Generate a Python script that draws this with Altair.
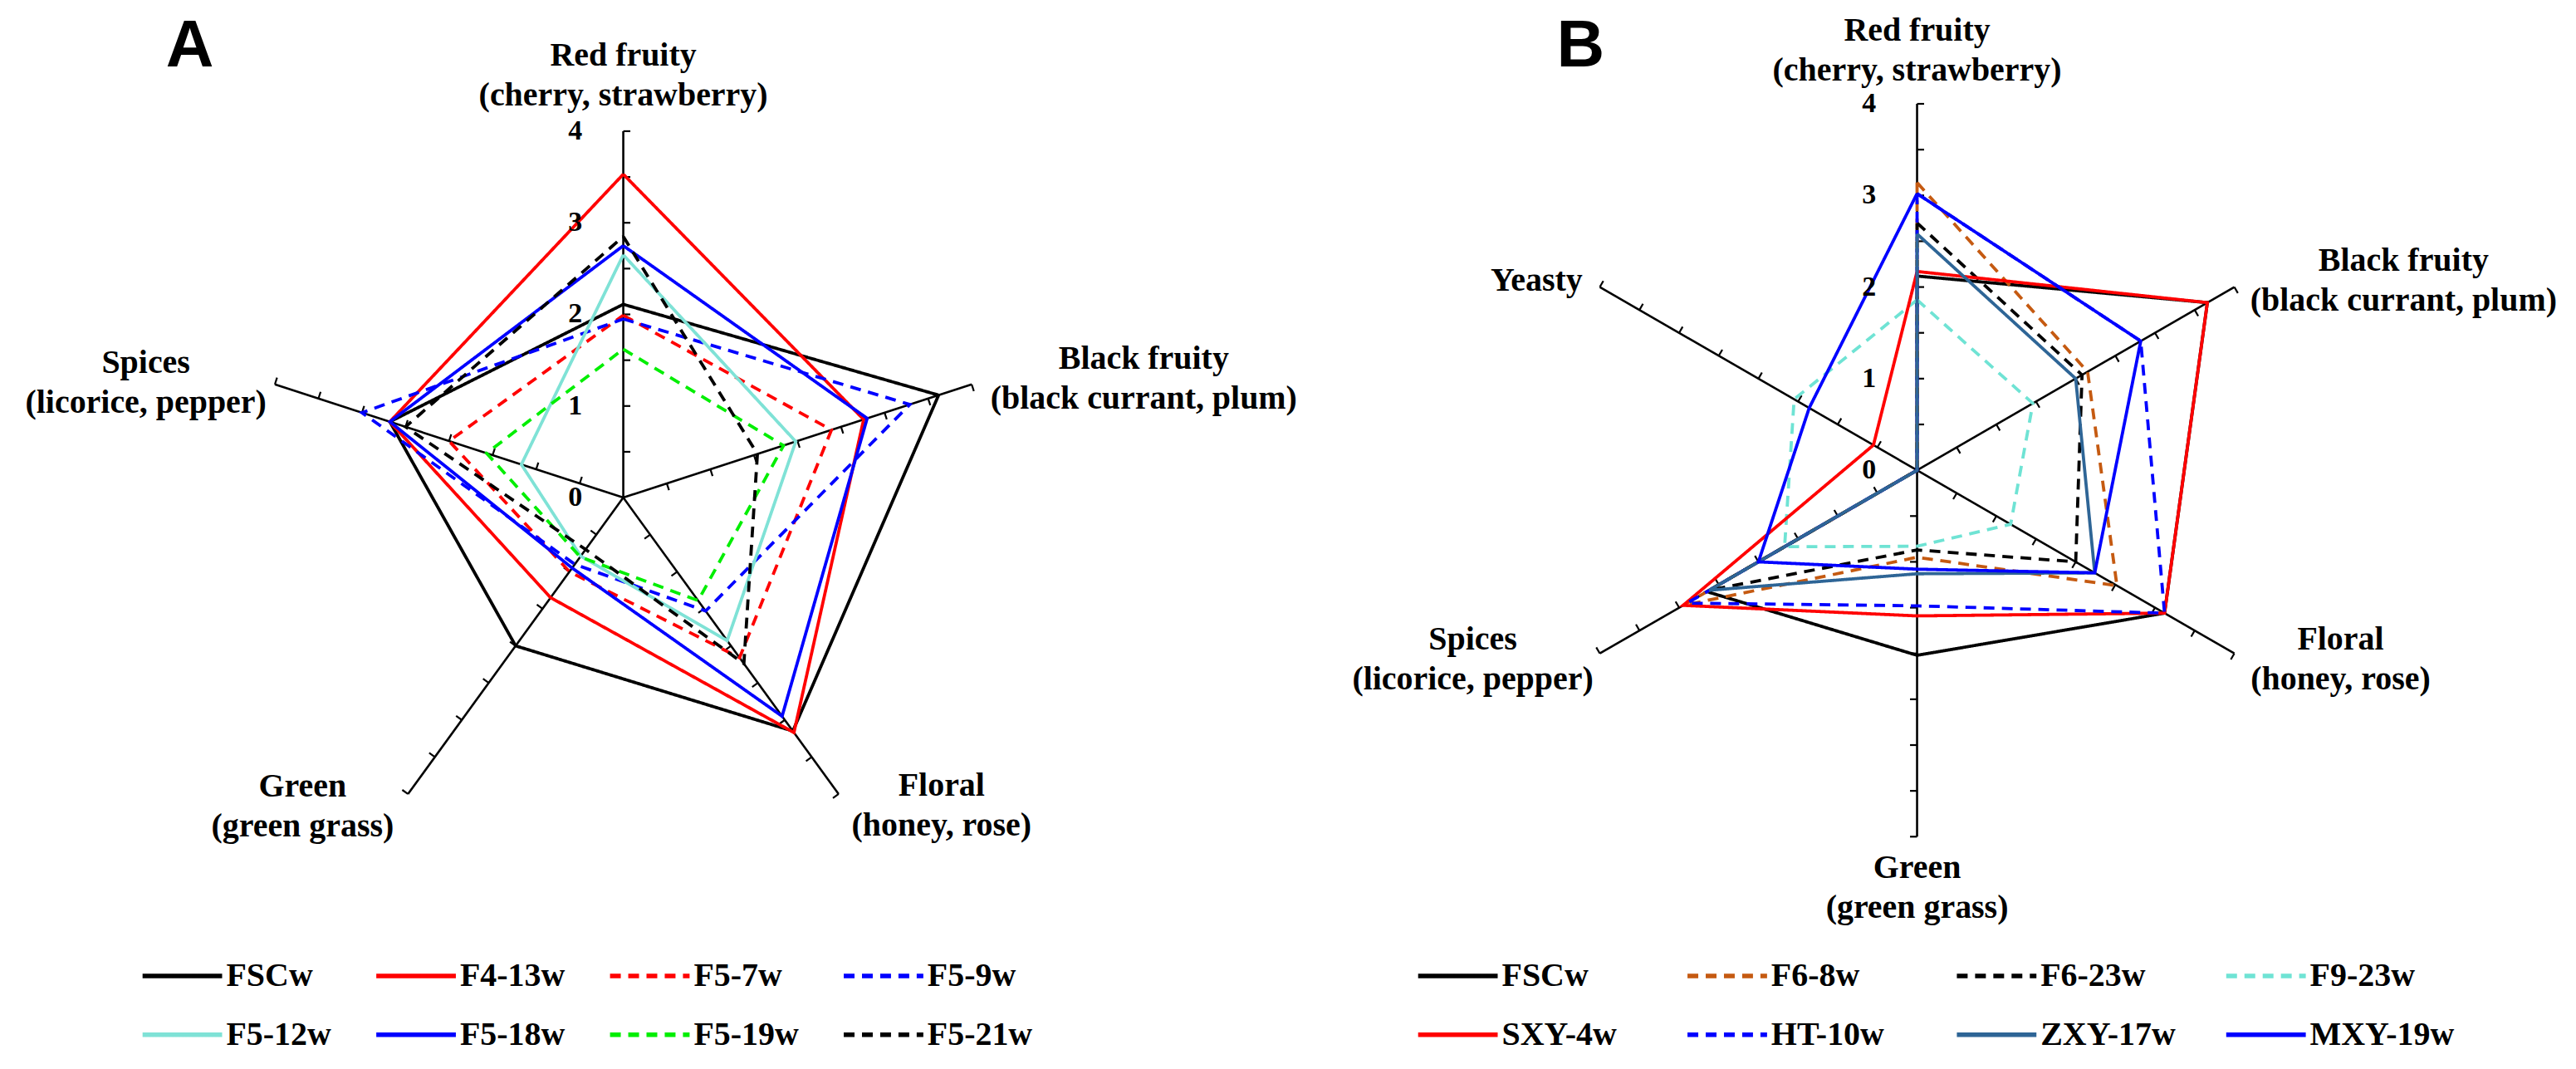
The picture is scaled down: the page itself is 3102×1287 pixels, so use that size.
import altair as alt
import pandas as pd

K = 110.5  # pixels per scale unit (both panels share the same radial scale)

# ---------------- Panel A data ----------------
A_axes = ["Red fruity", "Black fruity", "Floral", "Green", "Spices"]
A_subs = ["(cherry, strawberry)", "(black currant, plum)", "(honey, rose)", "(green grass)", "(licorice, pepper)"]
A_series = ["FSCw", "F4-13w", "F5-7w", "F5-9w", "F5-12w", "F5-18w", "F5-19w", "F5-21w"]
A_FSCw = [2.11, 3.62, 3.15, 2.00, 2.68]
A_F4_13w = [3.53, 2.76, 3.17, 1.35, 2.68]
A_F5_7w = [1.99, 2.39, 2.16, 1.00, 2.00]
A_F5_9w = [1.95, 3.29, 1.53, 0.90, 3.00]
A_F5_12w = [2.65, 1.98, 1.93, 0.79, 1.17]
A_F5_18w = [2.75, 2.80, 2.95, 0.95, 2.68]
A_F5_19w = [1.62, 1.84, 1.39, 0.80, 1.57]
A_F5_21w = [2.85, 1.54, 2.24, 0.70, 2.50]
A_values = [A_FSCw, A_F4_13w, A_F5_7w, A_F5_9w, A_F5_12w, A_F5_18w, A_F5_19w, A_F5_21w]
A_colors = ["#000000", "#FF0000", "#FF0000", "#0000FF", "#7FE2D6", "#0000FF", "#00EE00", "#000000"]
A_solid = [True, True, False, False, True, True, False, False]

# ---------------- Panel B data ----------------
B_axes = ["Red fruity", "Black fruity", "Floral", "Green", "Spices", "Yeasty"]
B_subs = ["(cherry, strawberry)", "(black currant, plum)", "(honey, rose)", "(green grass)", "(licorice, pepper)", ""]
B_series = ["FSCw", "F6-8w", "F6-23w", "F9-23w", "SXY-4w", "HT-10w", "ZXY-17w", "MXY-19w"]
B_FSCw = [2.12, 3.66, 3.12, 2.02, 2.65, 0.00]
B_F6_8w = [3.14, 2.15, 2.52, 0.95, 2.95, 0.00]
B_F6_23w = [2.70, 2.08, 2.00, 0.87, 2.62, 0.00]
B_F9_23w = [1.86, 1.46, 1.18, 0.83, 1.67, 1.55]
B_SXY_4w = [2.17, 3.66, 3.12, 1.59, 2.95, 0.55]
B_HT_10w = [3.02, 2.82, 3.12, 1.48, 2.90, 0.00]
B_ZXY_17w = [2.58, 2.00, 2.24, 1.13, 2.62, 0.00]
B_MXY_19w = [3.02, 2.82, 2.24, 1.08, 2.00, 1.36]
B_values = [B_FSCw, B_F6_8w, B_F6_23w, B_F9_23w, B_SXY_4w, B_HT_10w, B_ZXY_17w, B_MXY_19w]
B_colors = ["#000000", "#C55A11", "#000000", "#6FE3D4", "#FF0000", "#0000FF", "#2E6596", "#0000FF"]
B_solid = [True, False, False, False, True, False, True, True]

TICK_VALUES = [0, 1, 2, 3, 4]
AXIS_MAX = 4

SERIF = "Liberation Serif"
SANS = "Liberation Sans"


def build_panel(axes, subs, series, values, colors, solid, letter,
                width, height, cx, cy, label_xy, letter_xy,
                legend_x, legend_y, col_pad):
    n = len(axes)
    ang_expr = f"PI/2 - datum.idx*2*PI/{n}"
    xs = alt.Scale(domain=[-cx / K, (width - cx) / K], nice=False, zero=False)
    ys = alt.Scale(domain=[-(height - cy) / K, cy / K], nice=False, zero=False)

    def X(f):
        return alt.X(f, type="quantitative", scale=xs, axis=None)

    def Y(f):
        return alt.Y(f, type="quantitative", scale=ys, axis=None)

    # axis spokes
    spokes = pd.DataFrame({"idx": list(range(n)), "len": [AXIS_MAX] * n})
    spoke_layer = alt.Chart(spokes).transform_calculate(
        ang=ang_expr, x0="0", y0="0",
        x1="datum.len*cos(datum.ang)", y1="datum.len*sin(datum.ang)"
    ).mark_rule(color="black", strokeWidth=2.6).encode(
        x=X("x0"), y=Y("y0"), x2="x1:Q", y2="y1:Q")

    # minor ticks every 0.5
    tk = [{"idx": i, "v": j * 0.5} for i in range(n) for j in range(1, 2 * AXIS_MAX + 1)]
    L = 8.5 / K
    tick_layer = alt.Chart(pd.DataFrame(tk)).transform_calculate(
        ang=ang_expr,
        px="datum.v*cos(datum.ang)", py="datum.v*sin(datum.ang)",
        qx=f"datum.v*cos(datum.ang) + {L}*sin(datum.ang)",
        qy=f"datum.v*sin(datum.ang) - {L}*cos(datum.ang)"
    ).mark_rule(color="black", strokeWidth=2.2).encode(
        x=X("px"), y=Y("py"), x2="qx:Q", y2="qy:Q")

    # numeric labels on the vertical axis
    tl = pd.DataFrame({"v": TICK_VALUES})
    tick_text = alt.Chart(tl).transform_calculate(x0="0").mark_text(
        font=SERIF, fontSize=34, fontWeight="bold", color="black",
        dx=-58, align="center", baseline="middle"
    ).encode(x=X("x0"), y=Y("v"), text=alt.Text("v:Q"))

    # data polygons (closed)
    rows = []
    for s, vals in zip(series, values):
        for i in range(n + 1):
            rows.append({"series": s, "idx": i % n, "ord": i, "value": vals[i % n]})
    ld = pd.DataFrame(rows)
    dashes = [[1, 0] if so else [13, 9] for so in solid]
    leg = alt.Legend(
        title=None, orient="none", legendX=legend_x, legendY=legend_y,
        direction="horizontal", columns=4, symbolType="stroke",
        symbolSize=96 * 96, symbolStrokeWidth=5.5, labelFont=SERIF,
        labelFontSize=40, labelFontWeight="bold", labelColor="black",
        labelOffset=2, labelLimit=500, columnPadding=col_pad, rowPadding=-36,
        gridAlign="all", symbolLimit=0)
    line_layer = alt.Chart(ld).transform_calculate(
        ang=ang_expr,
        x="datum.value*cos(datum.ang)", y="datum.value*sin(datum.ang)"
    ).mark_line(strokeWidth=3.8).encode(
        x=X("x"), y=Y("y"),
        color=alt.Color("series:N", scale=alt.Scale(domain=series, range=colors), legend=leg),
        strokeDash=alt.StrokeDash("series:N", scale=alt.Scale(domain=series, range=dashes), legend=leg),
        order=alt.Order("ord:Q"))

    # category labels (two lines)
    lab = pd.DataFrame({
        "t1": axes, "t2": subs,
        "lx": [p[0] for p in label_xy], "ly": [p[1] for p in label_xy]})
    lab1 = alt.Chart(lab).mark_text(
        font=SERIF, fontSize=40, fontWeight="bold", color="black",
        align="center", baseline="middle", dy=-24
    ).encode(x=X("lx"), y=Y("ly"), text="t1:N")
    lab2 = alt.Chart(lab).mark_text(
        font=SERIF, fontSize=40, fontWeight="bold", color="black",
        align="center", baseline="middle", dy=24
    ).encode(x=X("lx"), y=Y("ly"), text="t2:N")

    let = pd.DataFrame({"t": [letter], "lx": [letter_xy[0]], "ly": [letter_xy[1]]})
    let_layer = alt.Chart(let).mark_text(
        font=SANS, fontSize=80, fontWeight="bold", color="black",
        align="center", baseline="middle"
    ).encode(x=X("lx"), y=Y("ly"), text="t:N")

    return alt.layer(spoke_layer, tick_layer, line_layer, tick_text, lab1, lab2, let_layer).properties(
        width=width, height=height)


H = 1265
# Panel A: page origin (8, 8); centre at page (751, 598)
A_label_xy = [(0.0, 4.606), (5.683, 1.299), (3.475, -3.367), (-3.502, -3.376), (-5.213, 1.249)]
panelA = build_panel(A_axes, A_subs, A_series, A_values, A_colors, A_solid, "A",
                     1620, H, 743, 590, A_label_xy, (-4.733, 4.923),
                     legend_x=160, legend_y=1116, col_pad=43)

# Panel B: page origin (1628, 8); centre at page (2308, 565)
B_label_xy = [(0.0, 4.579), (5.312, 2.072), (4.624, -2.063), (0.0, -4.561), (-4.851, -2.063), (-4.154, 1.855)]
panelB = build_panel(B_axes, B_subs, B_series, B_values, B_colors, B_solid, "B",
                     1466, H, 680, 557, B_label_xy, (-3.674, 4.625),
                     legend_x=75, legend_y=1116, col_pad=38)

chart = alt.hconcat(panelA, panelB, spacing=0).resolve_scale(
    x="independent", y="independent", color="independent", strokeDash="independent"
).resolve_legend(color="independent", strokeDash="independent").properties(
    padding=0
).configure_view(stroke="transparent")

chart.save("out.html", embed_options={"renderer": "svg", "actions": False})
